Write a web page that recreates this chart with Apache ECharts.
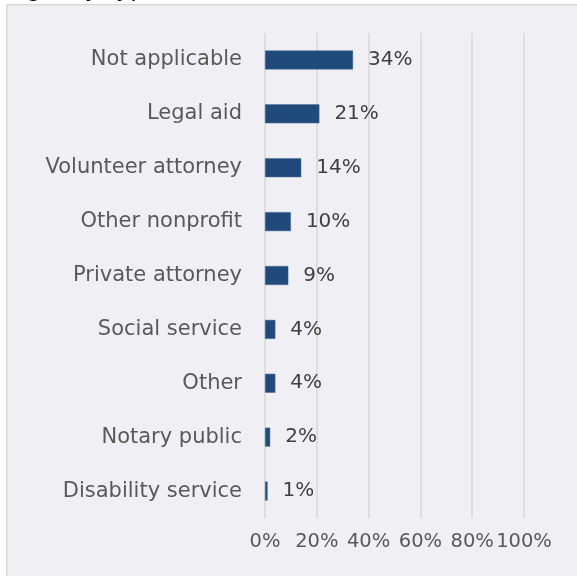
<!DOCTYPE html>
<html><head><meta charset="utf-8">
<script src="https://cdn.jsdelivr.net/npm/echarts@6/dist/echarts.min.js"></script>
<style>html,body{margin:0;padding:0;background:#fff}#c{width:577px;height:576px}</style>
</head><body><div id="c"></div>
<script>
const categories = ["Not applicable","Legal aid","Volunteer attorney","Other nonprofit","Private attorney","Social service","Other","Notary public","Disability service"];
const values = [34,21,14,10,9,4,4,2,1];
const xTicks = [0,20,40,60,80,100];
const titleText = "Agency type";

const chart = echarts.init(document.getElementById('c'));
const font = "DejaVu Sans";
chart.setOption({
  backgroundColor: '#ffffff',
  animation: false,
  graphic: [
    {type:'rect', left:6, top:4, shape:{width:600, height:600}, style:{fill:'#f0eff4', stroke:'#d9d9d9', lineWidth:1.5}, z:-10},
    {type:'text', left:10, top:-22, style:{text:titleText, fill:'#000', font:'24px "DejaVu Sans"'}, z:-20}
  ],
  grid: {left:265, right:53, top:33, bottom:58},
  xAxis: {
    type:'value', min:xTicks[0], max:xTicks[xTicks.length-1], interval:20,
    axisLine:{show:false}, axisTick:{show:false},
    splitLine:{lineStyle:{color:'#d9d9d9', width:1.5}},
    axisLabel:{formatter:'{value}%', color:'#595959', fontFamily:font, fontSize:19.5, margin:14}
  },
  yAxis: {
    type:'category', data:categories, inverse:true,
    axisLine:{show:false}, axisTick:{show:false},
    axisLabel:{color:'#595959', fontFamily:font, fontSize:21, margin:23}
  },
  series: [{
    type:'bar', data:values, barWidth:19,
    itemStyle:{color:'#204a7c', borderColor:'#4a6f9c', borderWidth:0.5},
    label:{show:true, position:'right', distance:15, formatter:'{c}%', color:'#404040', fontFamily:font, fontSize:20}
  }]
});
</script></body></html>
